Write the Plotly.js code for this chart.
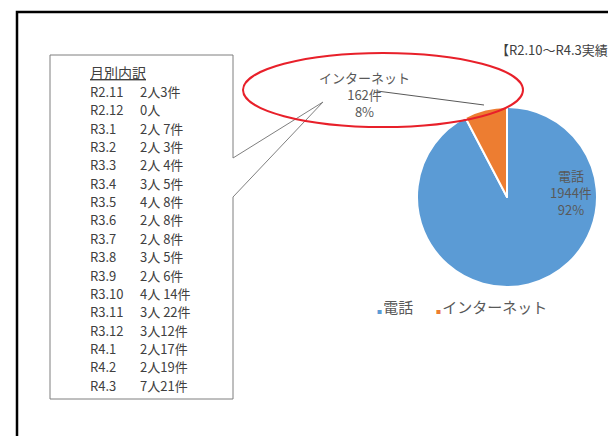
<!DOCTYPE html>
<html>
<head>
<meta charset="utf-8">
<script src="https://cdn.plot.ly/plotly-3.0.1.min.js"></script>
<style>html,body{margin:0;padding:0;background:#fff;}#chart{width:608px;height:436px;}</style>
</head>
<body>
<div id="chart"></div>
<script>
// ---- data ----
const categories = ['電話', 'インターネット'];
const counts = [1944, 162];
const percents = ['92%', '8%'];
const colors = ['#5B9BD5', '#ED7D31'];
const periodTitle = '【R2.10～R4.3実績】';
const breakdownTitle = '月別内訳';
const months = ['R2.11','R2.12','R3.1','R3.2','R3.3','R3.4','R3.5','R3.6','R3.7','R3.8','R3.9','R3.10','R3.11','R3.12','R4.1','R4.2','R4.3'];
const breakdown = ['2人3件','0人','2人 7件','2人 3件','2人 4件','3人 5件','4人 8件','2人 8件','2人 8件','3人 5件','2人 6件','4人 14件','3人 22件','3人12件','2人17件','2人19件','7人21件'];

// ---- helpers: pixel -> paper ----
const W = 608, H = 436;
const px = x => x / W;
const py = y => 1 - y / H;
const FONT = '"Noto Sans CJK JP", "Noto Sans", sans-serif';

// pie geometry
const cx = 507, cy = 197, r = 90;

const trace = {
  type: 'pie',
  labels: categories,
  values: counts,
  sort: false,
  direction: 'clockwise',
  rotation: 0,
  marker: {colors: colors, line: {color: '#ffffff', width: 2}},
  textinfo: 'none',
  hoverinfo: 'none',
  showlegend: false,
  domain: {x: [px(cx - r), px(cx + r)], y: [py(cy + r), py(cy - r)]}
};

const annotations = [];
// period title (runs off the right edge as in the reference)
annotations.push({xref:'paper', yref:'paper', x:px(494), y:py(50), xanchor:'left', yanchor:'middle',
  text: periodTitle, showarrow:false, font:{family:FONT, size:13, color:'#404040'}});
// pie labels
annotations.push({xref:'paper', yref:'paper', x:px(571), y:py(193), xanchor:'center', yanchor:'middle',
  text: categories[0] + '<br>' + counts[0] + '件<br>' + percents[0], showarrow:false, align:'center',
  font:{family:FONT, size:13, color:'#595959'}});
annotations.push({xref:'paper', yref:'paper', x:px(364), y:py(95), xanchor:'center', yanchor:'middle',
  text: categories[1] + '<br>' + counts[1] + '件<br>' + percents[1], showarrow:false, align:'center',
  font:{family:FONT, size:13, color:'#595959'}});
// legend (small square markers like the reference)
const legendX = [375, 434];
categories.forEach((c, i) => {
  annotations.push({xref:'paper', yref:'paper', x:px(legendX[i]), y:py(306), xanchor:'left', yanchor:'middle',
    text: '<span style="color:' + colors[i] + ';font-size:5px">■ </span>' + c, showarrow:false,
    font:{family:FONT, size:15, color:'#595959'}});
});
// breakdown box text
annotations.push({xref:'paper', yref:'paper', x:px(88), y:py(72), xanchor:'left', yanchor:'middle',
  text: '<u>' + breakdownTitle + '</u>', showarrow:false, font:{family:FONT, size:14, color:'#404040'}});
const rowStep = 18.35;
months.forEach((m, i) => {
  const y = 91.5 + i * rowStep;
  annotations.push({xref:'paper', yref:'paper', x:px(88), y:py(y), xanchor:'left', yanchor:'middle',
    text: m, showarrow:false, font:{family:FONT, size:13, color:'#404040'}});
  annotations.push({xref:'paper', yref:'paper', x:px(138), y:py(y), xanchor:'left', yanchor:'middle',
    text: breakdown[i], showarrow:false, font:{family:FONT, size:13, color:'#404040'}});
});

function pathPx(pts) {
  return 'M' + pts.map(p => px(p[0]) + ',' + py(p[1])).join(' L') + ' Z';
}

const shapes = [
  // outer frame
  {type:'rect', xref:'paper', yref:'paper', x0:px(17), y0:py(460), x1:px(640), y1:py(12),
   line:{color:'#000000', width:2.5}, fillcolor:'rgba(0,0,0,0)', layer:'below'},
  // callout box
  {type:'path', xref:'paper', yref:'paper', layer:'below',
   path: pathPx([[233,158],[233,55],[50,55],[50,399],[233,399],[233,197],[323,102]]),
   line:{color:'#7f7f7f', width:1}, fillcolor:'#ffffff'},
  // leader line
  {type:'line', xref:'paper', yref:'paper', x0:px(377), y0:py(91), x1:px(484), y1:py(105),
   line:{color:'#595959', width:1}, layer:'above'},
  // red ellipse
  {type:'circle', xref:'paper', yref:'paper', x0:px(243), x1:px(523), y0:py(127), y1:py(53),
   line:{color:'#E8202A', width:2}, fillcolor:'rgba(0,0,0,0)', layer:'above'}
];

const layout = {
  width: W, height: H,
  margin: {l:0, r:0, t:0, b:0},
  paper_bgcolor: '#ffffff',
  showlegend: false,
  annotations: annotations,
  shapes: shapes,
  font: {family: FONT}
};

Plotly.newPlot('chart', [trace], layout, {displayModeBar:false, staticPlot:true});
</script>
</body>
</html>
